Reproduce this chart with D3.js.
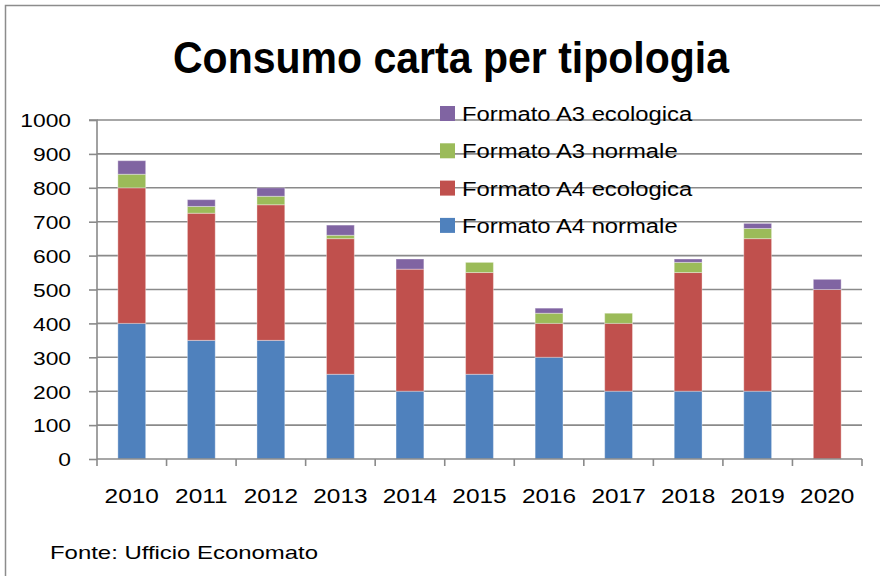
<!DOCTYPE html>
<html>
<head>
<meta charset="utf-8">
<script src="https://cdn.jsdelivr.net/npm/d3@7/dist/d3.min.js"></script>
<style>
html,body{margin:0;padding:0;background:#fff;}
svg{display:block;}
</style>
</head>
<body>
<svg id="chart" width="880" height="576"></svg>
<script>
const years = ["2010","2011","2012","2013","2014","2015","2016","2017","2018","2019","2020"];
const a4Normale   = [400, 350, 350, 250, 200, 250, 300, 200, 200, 200, 0];
const a4Ecologica = [400, 375, 400, 400, 360, 300, 100, 200, 350, 450, 500];
const a3Normale   = [40, 20, 25, 10, 0, 30, 30, 30, 30, 30, 0];
const a3Ecologica = [40, 20, 25, 30, 30, 0, 15, 0, 10, 15, 30];
const yTicks = [0,100,200,300,400,500,600,700,800,900,1000];
const seriesNames = ["Formato A4 normale","Formato A4 ecologica","Formato A3 normale","Formato A3 ecologica"];
const seriesColors = ["#4F81BD","#C0504D","#9BBB59","#8064A2"];
const titleText = "Consumo carta per tipologia";
const sourceText = "Fonte: Ufficio Economato";

(function(){
const svg = d3.select("#chart");
const font = "'Liberation Sans', Arial, sans-serif";

// stretch text horizontally to match reference's wide rendering
function stretch(sel, factor){
  sel.each(function(){
    const w = this.getComputedTextLength();
    d3.select(this).attr("textLength", w*factor).attr("lengthAdjust","spacingAndGlyphs");
  });
}

// outer frame
svg.append("rect").attr("x",5.5).attr("y",5.5).attr("width",900).attr("height",600)
  .attr("fill","none").attr("stroke","#8c8c8c").attr("stroke-width",1.5);

const pL = 97, pR = 862, pT = 120, pB = 459;
const x = d3.scaleBand().domain(years).range([pL,pR]).paddingInner(0.6).paddingOuter(0.3);
const xb = d3.scaleBand().domain(years).range([pL,pR]);
const y = d3.scaleLinear().domain([0,1000]).range([pB,pT]);

// gridlines
svg.append("g").selectAll("line").data(yTicks.filter(d=>d>0)).join("line")
  .attr("x1",pL).attr("x2",pR).attr("y1",d=>y(d)).attr("y2",d=>y(d))
  .attr("stroke","#8a8a8a").attr("stroke-width",1.6);

// stacked data
const rows = years.map((yr,i)=>({year:yr, s0:a4Normale[i], s1:a4Ecologica[i], s2:a3Normale[i], s3:a3Ecologica[i]}));
const stack = d3.stack().keys(["s0","s1","s2","s3"])(rows);

svg.append("g").selectAll("g").data(stack).join("g")
  .attr("fill",(d,i)=>seriesColors[i])
  .selectAll("rect").data(d=>d.filter(p=>p[1]-p[0]>0)).join("rect")
  .attr("x",d=>x(d.data.year)).attr("width",x.bandwidth())
  .attr("y",d=>y(d[1])).attr("height",d=>y(d[0])-y(d[1]))
  .attr("stroke","rgba(255,255,255,0.35)").attr("stroke-width",1);

// y axis
const yAxis = d3.axisLeft(y).tickValues(yTicks).tickFormat(d3.format("d")).tickSize(8).tickPadding(18);
const gy = svg.append("g").attr("transform",`translate(${pL},0)`).call(yAxis);
gy.select(".domain").attr("stroke","#8a8a8a").attr("stroke-width",1.6).attr("d",`M-8,${pT}H0V${pB}`);
gy.selectAll(".tick line").attr("stroke","#8a8a8a").attr("stroke-width",1.6);
gy.selectAll("text").attr("font-family",font).attr("font-size",19).attr("fill","#000").attr("dy","0.36em");
stretch(gy.selectAll("text"), 1.2);

// x axis
const gx = svg.append("g").attr("transform",`translate(0,${pB})`);
gx.append("line").attr("x1",pL).attr("x2",pR).attr("stroke","#8a8a8a").attr("stroke-width",1.6);
gx.selectAll("line.tk").data(years.concat(["end"])).join("line").attr("class","tk")
  .attr("x1",(d,i)=>pL+i*xb.bandwidth()).attr("x2",(d,i)=>pL+i*xb.bandwidth())
  .attr("y1",0).attr("y2",7).attr("stroke","#8a8a8a").attr("stroke-width",1.6);
const yl = gx.selectAll("text").data(years).join("text")
  .attr("x",d=>xb(d)+xb.bandwidth()/2).attr("y",44)
  .attr("text-anchor","middle").attr("font-family",font).attr("font-size",20).attr("fill","#000")
  .text(d=>d);
stretch(yl, 1.22);

// title
svg.append("text").attr("x",451).attr("y",73).attr("text-anchor","middle")
  .attr("font-family","'Liberation Sans Narrow','Liberation Sans',Arial,sans-serif").attr("font-weight","bold")
  .attr("font-size",44).attr("fill","#000")
  .attr("textLength",556).attr("lengthAdjust","spacingAndGlyphs")
  .text(titleText);

// legend (reverse order)
const legendOrder = [3,2,1,0];
const lg = svg.append("g");
legendOrder.forEach((si,k)=>{
  const cy = 114 + k*37.3;
  lg.append("rect").attr("x",440).attr("y",cy-8).attr("width",15).attr("height",15).attr("fill",seriesColors[si]);
  const t = lg.append("text").attr("x",462).attr("y",cy+7).attr("font-family",font).attr("font-size",20).attr("fill","#000")
    .text(seriesNames[si]);
  stretch(t, 1.19);
});

// source
const src = svg.append("text").attr("x",50).attr("y",559).attr("font-family",font).attr("font-size",19).attr("fill","#000")
  .text(sourceText);
src.attr("textLength",268).attr("lengthAdjust","spacingAndGlyphs");
})();
</script>
</body>
</html>
